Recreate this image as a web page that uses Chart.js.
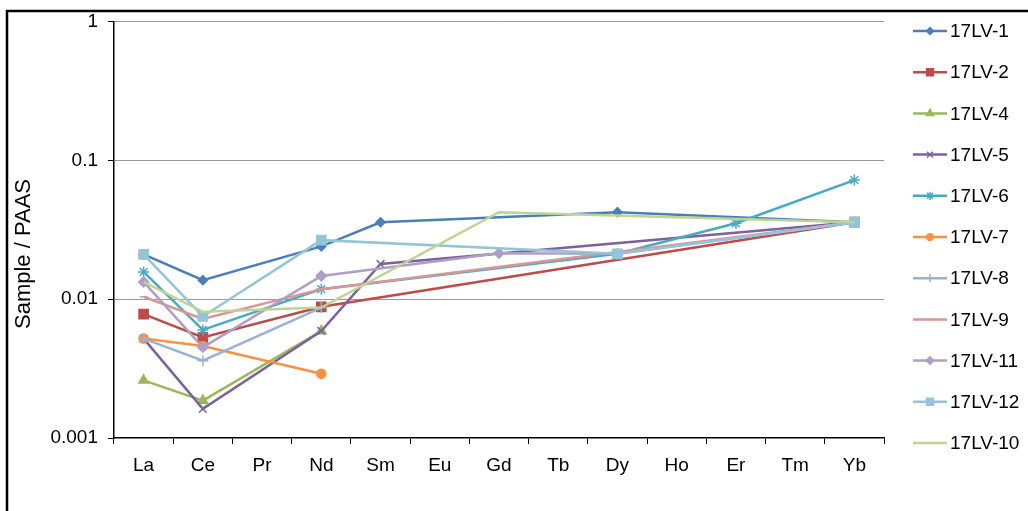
<!DOCTYPE html>
<html>
<head>
<meta charset="utf-8">
<script src="https://cdn.jsdelivr.net/npm/chart.js@4"></script>
<style>
  body { margin: 0; background: #fff; }
  canvas { display: block; }
</style>
</head>
<body>
<canvas id="reeChart" width="1028" height="511"></canvas>
<script>
const elements = ["La", "Ce", "Pr", "Nd", "Sm", "Eu", "Gd", "Tb", "Dy", "Ho", "Er", "Tm", "Yb"];
const yTicks = [0.001, 0.01, 0.1, 1];

// Sample / PAAS, null where the element was not plotted
const lv1  = [0.021, 0.0137, null, 0.024, 0.0358, null, null, null, 0.0423, null, null, null, 0.0358];
const lv2  = [0.0078, 0.0053, null, 0.0088, null, null, null, null, null, null, null, null, 0.0358];
const lv4  = [0.0026, 0.00186, null, 0.0059, null, null, null, null, null, null, null, null, null];
const lv5  = [0.0052, 0.00162, null, 0.0059, 0.0179, null, null, null, null, null, null, null, 0.0358];
const lv6  = [0.0157, 0.0060, null, 0.0118, null, null, null, null, 0.0212, null, 0.0352, null, 0.072];
const lv7  = [0.0052, 0.0046, null, 0.0029, null, null, null, null, null, null, null, null, null];
const lv8  = [0.0052, 0.0036, null, 0.0087, null, null, null, null, null, null, null, null, null];
const lv9  = [0.0104, 0.0072, null, 0.0118, null, null, null, null, null, null, null, null, 0.0358];
const lv11 = [0.0133, 0.0045, null, 0.0147, null, null, 0.0214, null, 0.0212, null, null, null, 0.0358];
const lv12 = [0.021, 0.0075, null, 0.0266, null, null, null, null, 0.0212, null, null, null, 0.0358];
const lv10 = [0.0133, 0.0081, null, 0.0087, null, null, 0.0423, null, null, null, null, null, 0.0358];

const series = [
    { label: "17LV-1",  data: lv1,  color: "#4A7EBB", style: "rectRot",  r: 4.5 },
    { label: "17LV-2",  data: lv2,  color: "#BE4B48", style: "rect",     r: 6.5 },
    { label: "17LV-4",  data: lv4,  color: "#98B954", style: "triangle", r: 5.5 },
    { label: "17LV-5",  data: lv5,  color: "#7D60A0", style: "crossRot", r: 5.5 },
    { label: "17LV-6",  data: lv6,  color: "#46AAC5", style: "star",     r: 5.5 },
    { label: "17LV-7",  data: lv7,  color: "#F69240", style: "circle",   r: 4.5 },
    { label: "17LV-8",  data: lv8,  color: "#9BB0D6", style: "cross",    r: 5.5 },
    { label: "17LV-9",  data: lv9,  color: "#DA9694", style: "line",     r: 4 },
    { label: "17LV-11", data: lv11, color: "#AD9FC8", style: "rectRot",  r: 5 },
    { label: "17LV-12", data: lv12, color: "#93C5D9", style: "rect",     r: 6.5 },
    { label: "17LV-10", data: lv10, color: "#BDD494", style: false,      r: 0 }
];

const FONT = "'Liberation Sans', Arial, sans-serif";

// frame, axis title and the right-hand legend
const decorations = {
    id: "decorations",
    afterDraw(chart) {
        const ctx = chart.ctx;
        ctx.save();
        ctx.strokeStyle = "#000";
        ctx.lineWidth = 2.5;
        ctx.beginPath();
        ctx.moveTo(7, 513);
        ctx.lineTo(7, 11);
        ctx.lineTo(1030, 11);
        ctx.stroke();

        ctx.fillStyle = "#000";
        ctx.font = "22px " + FONT;
        ctx.textAlign = "center";
        ctx.textBaseline = "middle";
        ctx.translate(24, 254);
        ctx.rotate(-Math.PI / 2);
        ctx.fillText("Sample / PAAS", 0, 0);
        ctx.restore();

        ctx.save();
        chart.data.datasets.forEach((ds, i) => {
            const y = 31 + i * 41.2;
            ctx.strokeStyle = ds.borderColor;
            ctx.lineWidth = 2.5;
            ctx.beginPath();
            ctx.moveTo(913, y);
            ctx.lineTo(947, y);
            ctx.stroke();
            if (ds.pointStyle && Chart.helpers && Chart.helpers.drawPoint) {
                ctx.fillStyle = ds.pointBackgroundColor;
                ctx.strokeStyle = ds.pointBorderColor;
                ctx.lineWidth = 1.5;
                Chart.helpers.drawPoint(ctx, { pointStyle: ds.pointStyle, radius: ds.pointRadius * 0.75, rotation: 0, borderWidth: 1.5 }, 930, y);
            }
            ctx.fillStyle = "#000";
            ctx.font = "19px " + FONT;
            ctx.textAlign = "left";
            ctx.textBaseline = "middle";
            ctx.fillText(ds.label, 950, y + 1);
        });
        ctx.restore();
    }
};

const ctx = document.getElementById("reeChart").getContext("2d");
const chart = new Chart(ctx, {
    type: "line",
    data: {
        labels: elements,
        datasets: series.map((s, i) => ({
            label: s.label,
            data: s.data,
            borderColor: s.color,
            backgroundColor: s.color,
            pointBackgroundColor: s.color,
            pointBorderColor: s.color,
            pointStyle: s.style,
            pointRadius: s.r,
            pointBorderWidth: 1.5,
            borderWidth: 2.5,
            tension: 0,
            fill: false,
            spanGaps: true,
            order: series.length - i
        }))
    },
    options: {
        responsive: false,
        animation: false,
        devicePixelRatio: 1,
        layout: { padding: { left: 0, right: 144, top: 21, bottom: 0 } },
        plugins: {
            legend: { display: false },
            tooltip: { enabled: false }
        },
        scales: {
            x: {
                type: "category",
                offset: true,
                afterFit(scale) { scale.height = 73; },
                grid: { offset: true, drawOnChartArea: false, tickColor: "#000", tickLength: 6 },
                border: { color: "#000", width: 1.5 },
                ticks: { color: "#000", font: { family: FONT, size: 19 }, padding: 10, autoSkip: false, maxRotation: 0 }
            },
            y: {
                type: "logarithmic",
                min: 0.001,
                max: 1,
                afterFit(scale) { scale.width = 114; },
                afterBuildTicks(scale) { scale.ticks = yTicks.map(v => ({ value: v })); },
                grid: {
                    color: c => (c.tick && c.tick.value === 0.001) ? "rgba(0,0,0,0)" : "#999",
                    lineWidth: 1,
                    tickColor: "#000",
                    tickLength: 6
                },
                border: { color: "#000", width: 1.5 },
                ticks: {
                    color: "#000",
                    font: { family: FONT, size: 19 },
                    padding: 10,
                    callback: v => String(v)
                }
            }
        }
    },
    plugins: [decorations]
});
</script>
</body>
</html>
